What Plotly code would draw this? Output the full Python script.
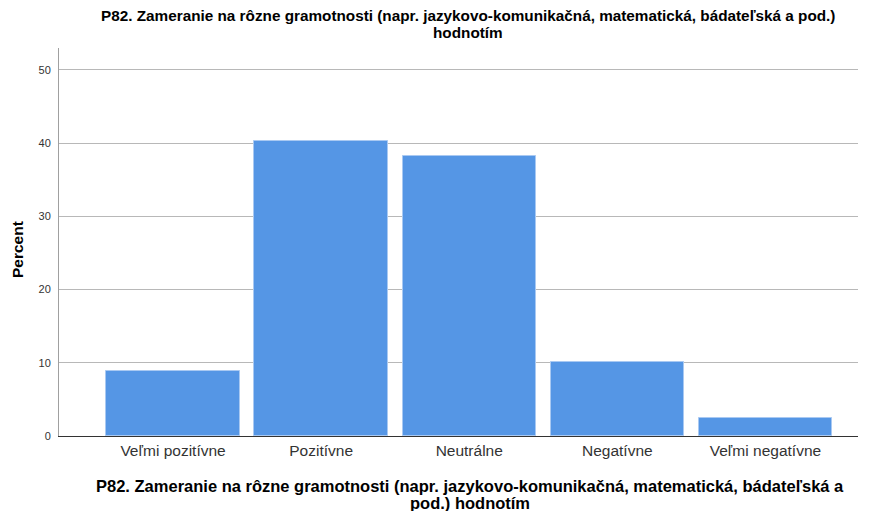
import plotly.graph_objects as go

categories = ["Veľmi pozitívne", "Pozitívne", "Neutrálne", "Negatívne", "Veľmi negatívne"]
percent = [8.9, 40.3, 38.3, 10.1, 2.4]
y_ticks = [0, 10, 20, 30, 40, 50]

title_lines = ["P82. Zameranie na rôzne gramotnosti (napr. jazykovo-komunikačná, matematická, bádateľská a pod.)",
               "hodnotím"]
x_title_lines = ["P82. Zameranie na rôzne gramotnosti (napr. jazykovo-komunikačná, matematická, bádateľská a",
                 "pod.) hodnotím"]

# page body adds 8px offset, so figure is 8px smaller than the window
W, H = 864, 503
L, R, T, B = 51, 14, 40, 75
plot_h = H - T - B
plot_w = W - L - R


def py(fig_y):
    return (H - B - fig_y) / plot_h


def px_(fig_x):
    return (fig_x - L) / plot_w


fig = go.Figure(go.Bar(
    x=list(range(len(categories))),
    y=percent,
    width=0.9,
    marker=dict(color="#5596e5", line=dict(color="#a9c9f2", width=1)),
))

fig.update_layout(
    width=W, height=H,
    margin=dict(l=L, r=R, t=T, b=B),
    paper_bgcolor="white", plot_bgcolor="white",
    font=dict(family="Arial, Liberation Sans", color="black"),
    showlegend=False,
    bargap=0,
)

# title and x-axis title as separate lines (tight line spacing like the reference)
for text, fy in zip(title_lines, [7, 25]):
    fig.add_annotation(text="<b>" + text + "</b>", xref="paper", yref="paper",
                       x=px_(460), y=py(fy), xanchor="center", yanchor="middle",
                       showarrow=False, font=dict(size=15.3, color="black"))
for text, fy in zip(x_title_lines, [478, 495]):
    fig.add_annotation(text="<b>" + text + "</b>", xref="paper", yref="paper",
                       x=px_(462), y=py(fy), xanchor="center", yanchor="middle",
                       showarrow=False, font=dict(size=16.5, color="black"))
fig.add_annotation(text="<b>Percent</b>", xref="paper", yref="paper",
                   x=px_(10), y=py(242), xanchor="center", yanchor="middle",
                   textangle=-90, showarrow=False, font=dict(size=15.5, color="black"))

fig.update_xaxes(
    tickmode="array", tickvals=list(range(len(categories))), ticktext=categories,
    range=[-0.77, 4.625], showgrid=False, ticks="", automargin=False,
    showline=True, linecolor="#333333", linewidth=1,
    tickfont=dict(size=15.5, color="#333333"),
)

fig.update_yaxes(
    range=[0, 53], tickvals=y_ticks, showgrid=True, gridcolor="#b8b8b8", gridwidth=1,
    showline=True, linecolor="#a0a0a0", linewidth=1, automargin=False,
    ticks="", ticklabelstandoff=5, tickfont=dict(size=11, color="#333333"), zeroline=False,
)

fig.write_html("out.html")
